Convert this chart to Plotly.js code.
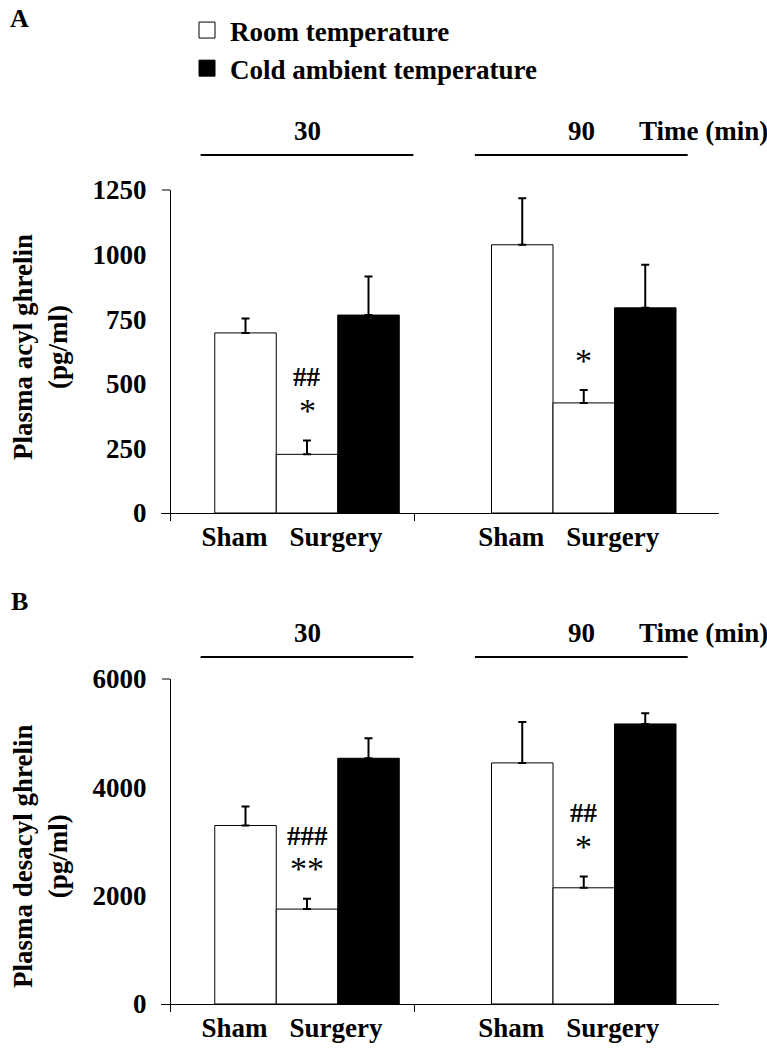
<!DOCTYPE html>
<html>
<head>
<meta charset="utf-8">
<script src="https://cdn.plot.ly/plotly-3.0.1.min.js"></script>
<style>html,body{margin:0;padding:0;background:#fff;}#chart{width:767px;height:1050px;}</style>
</head>
<body>
<div id="chart"></div>
<script>
// ---------------- data ----------------
const groups = ['30', '90'];                 // time (min)
const categories = ['Sham', 'Surgery'];
const seriesNames = ['Room temperature', 'Cold ambient temperature'];
// Room temperature bars: [Sham 30, Surgery 30, Sham 90, Surgery 90]
const acylRoom        = [697, 227, 1038, 426];
const acylRoomErr     = [56, 54, 180, 50];
// Cold ambient temperature bars: [Surgery 30, Surgery 90]
const acylCold        = [766, 794];
const acylColdErr     = [149, 167];
const desacylRoom     = [3295, 1752, 4451, 2145];
const desacylRoomErr  = [350, 191, 756, 209];
const desacylCold     = [4537, 5170];
const desacylColdErr  = [369, 197];
// significance marks above the room-temperature surgery bars (bottom first)
const acylMarks    = [['*', '##'], ['*']];
const desacylMarks = [['**', '###'], ['*', '##']];
const acylTicks    = [0, 250, 500, 750, 1000, 1250];
const desacylTicks = [0, 2000, 4000, 6000];

// ---------------- layout helpers ----------------
const W = 767, H = 1050;
const FONT = 'Liberation Serif, "Times New Roman", serif';
const fnt = (s) => ({family: FONT, size: s, color: '#000', weight: 'bold'});
const PX0 = 245.5, UNIT = 61.5;               // pixel of x=0, pixels per bar
const toX = (p) => (p - PX0) / UNIT;
const pxX = (p) => p / W;
const pxY = (p) => 1 - p / H;
const groupStart = [0, 4.5];
const shamX = groupStart.map(g => g);
const surgRoomX = groupStart.map(g => g + 1);
const surgColdX = groupStart.map(g => g + 2);
const roomX = [shamX[0], surgRoomX[0], shamX[1], surgRoomX[1]];
const sepX = (surgRoomX[0] + shamX[1]) / 2 - 0.01;
const yAxisPx = 170;

const panels = [
  {room: acylRoom, roomErr: acylRoomErr, cold: acylCold, coldErr: acylColdErr,
   marks: acylMarks, ticks: acylTicks, range: [0, 1250], top: 190, bottom: 513,
   title: 'Plasma acyl ghrelin<br>(pg/ml)', titleY: 347, letter: 'A', letterY: 19, headY: 131, lineY: 155},
  {room: desacylRoom, roomErr: desacylRoomErr, cold: desacylCold, coldErr: desacylColdErr,
   marks: desacylMarks, ticks: desacylTicks, range: [0, 6000], top: 679, bottom: 1004,
   title: 'Plasma desacyl ghrelin<br>(pg/ml)', titleY: 856, letter: 'B', letterY: 601, headY: 633, lineY: 657}
];

const traces = [];
// legend entries (square swatches like the original key)
[['#fff'], ['#000']].forEach((c, i) => {
  traces.push({type: 'scatter', mode: 'markers', name: seriesNames[i], x: [null], y: [null],
    xaxis: 'x', yaxis: 'y', hoverinfo: 'none', showlegend: true,
    marker: {symbol: 'square', size: 16, color: c[0], line: {color: '#000', width: 1}}});
});

const layout = {
  width: W, height: H,
  margin: {l: 0, r: 0, t: 0, b: 0},
  paper_bgcolor: '#fff', plot_bgcolor: 'rgba(0,0,0,0)',
  font: fnt(27),
  bargap: 0, barmode: 'overlay',
  showlegend: true,
  legend: {x: pxX(184), y: pxY(6), xanchor: 'left', yanchor: 'top', itemsizing: 'trace',
           font: fnt(27), bgcolor: 'rgba(0,0,0,0)', tracegroupgap: 0, itemwidth: 36},
  annotations: [], shapes: []
};

panels.forEach((p, i) => {
  const xa = i === 0 ? 'x' : 'x2', ya = i === 0 ? 'y' : 'y2';
  const xk = i === 0 ? 'xaxis' : 'xaxis2', yk = i === 0 ? 'yaxis' : 'yaxis2';
  traces.push({
    type: 'bar', name: seriesNames[0], x: roomX, y: p.room, width: 1,
    xaxis: xa, yaxis: ya, showlegend: false, hoverinfo: 'none',
    marker: {color: '#fff', line: {color: '#000', width: 1}},
    error_y: {type: 'data', symmetric: false, array: p.roomErr, arrayminus: p.room.map(() => 0),
              color: '#000', thickness: 2, width: 4}
  });
  traces.push({
    type: 'bar', name: seriesNames[1], x: surgColdX, y: p.cold, width: 1,
    xaxis: xa, yaxis: ya, showlegend: false, hoverinfo: 'none',
    marker: {color: '#000', line: {color: '#000', width: 1}},
    error_y: {type: 'data', symmetric: false, array: p.coldErr, arrayminus: p.cold.map(() => 0),
              color: '#000', thickness: 2, width: 4}
  });
  const xdom = [pxX(161), pxX(719)];
  const ydom = [pxY(p.bottom), pxY(p.top)];
  const tickPos = [], tickTxt = [];
  groups.forEach((g, k) => {
    tickPos.push(shamX[k] - 0.18); tickTxt.push(categories[0]);
    tickPos.push((surgRoomX[k] + surgColdX[k]) / 2 - 0.03); tickTxt.push(categories[1]);
  });
  layout[xk] = {
    domain: xdom, anchor: ya, range: [toX(161), toX(719)],
    showline: true, linecolor: '#000', linewidth: 1, showgrid: false, zeroline: false,
    tickmode: 'array', tickvals: tickPos, ticktext: tickTxt, ticks: '',
    tickfont: fnt(27), ticklabelstandoff: 0,
    minor: {tickmode: 'array', tickvals: [toX(yAxisPx), sepX], ticks: 'outside', ticklen: 7,
            tickwidth: 1, tickcolor: '#000'},
    fixedrange: true
  };
  layout[yk] = {
    domain: ydom, anchor: 'free', position: pxX(yAxisPx), range: p.range,
    showline: true, linecolor: '#000', linewidth: 1, showgrid: false, zeroline: false,
    tickmode: 'array', tickvals: p.ticks, ticks: '', tickfont: fnt(27),
    ticklabelstandoff: 18, fixedrange: true
  };
  // top tick of the value axis
  layout.shapes.push({type: 'line', xref: 'paper', yref: 'paper',
    x0: pxX(162), x1: pxX(yAxisPx), y0: ydom[1], y1: ydom[1], line: {color: '#000', width: 1}});
  // y-axis title
  layout.annotations.push({text: p.title, xref: 'paper', yref: 'paper', x: pxX(40),
    y: pxY(p.titleY), xanchor: 'center', yanchor: 'middle', textangle: -90,
    showarrow: false, font: fnt(27)});
  // panel letter
  layout.annotations.push({text: p.letter, xref: 'paper', yref: 'paper', x: pxX(19),
    y: pxY(p.letterY), xanchor: 'center', yanchor: 'middle', showarrow: false, font: fnt(26)});
  // time headers and lines
  groups.forEach((g, k) => {
    const c = surgRoomX[k] - (k === 0 ? 0 : 0.04);
    layout.annotations.push({text: g, xref: xa, yref: 'paper', x: c, y: pxY(p.headY),
      xanchor: 'center', yanchor: 'middle', showarrow: false, font: fnt(27)});
    layout.shapes.push({type: 'line', xref: xa, yref: 'paper', x0: c - 1.73, x1: c + 1.73,
      y0: pxY(p.lineY), y1: pxY(p.lineY), line: {color: '#000', width: 2}});
  });
  layout.annotations.push({text: 'Time (min)', xref: 'paper', yref: 'paper', x: pxX(637),
    y: pxY(p.headY), xanchor: 'left', yanchor: 'middle', showarrow: false, font: fnt(27)});
  // significance marks
  p.marks.forEach((ms, k) => {
    const idx = k * 2 + 1;
    const top = p.room[idx] + p.roomErr[idx];
    ms.forEach((m, j) => {
      const star = m.indexOf('*') >= 0;
      layout.annotations.push({text: m, xref: xa, yref: ya, x: surgRoomX[k], y: top,
        xanchor: 'center', yanchor: 'middle', yshift: j === 0 ? 30 : 63,
        showarrow: false, font: star ? {family: FONT, size: 34, color: '#000', weight: 'normal'} : fnt(27)});
    });
  });
});

Plotly.newPlot('chart', traces, layout, {displayModeBar: false, staticPlot: true});
</script>
</body>
</html>
